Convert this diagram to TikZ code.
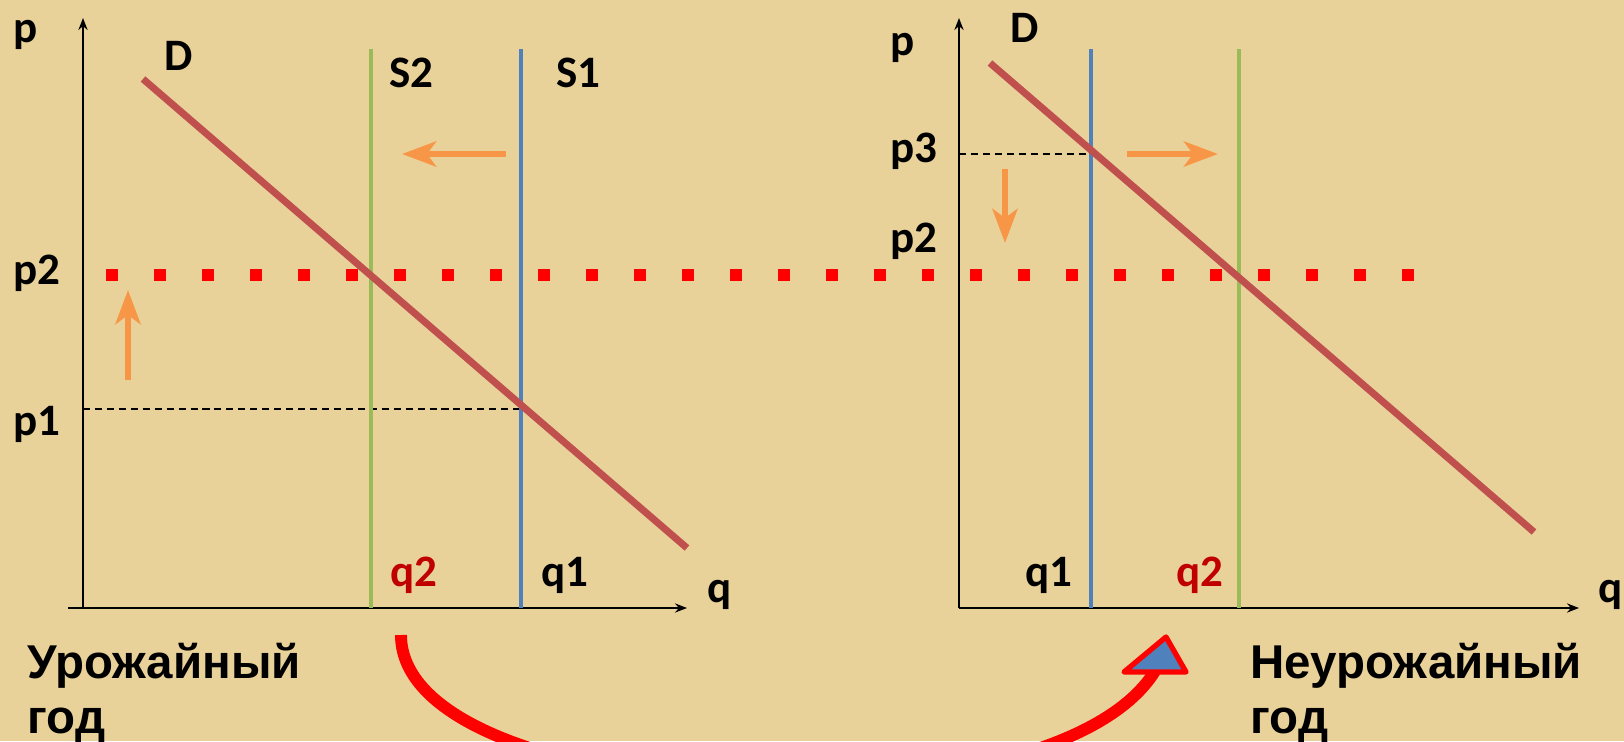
\documentclass[tikz,border=0pt]{standalone}
\usepackage{fontspec}
\setmainfont{Carlito}
\newfontfamily\yearfont{Liberation Sans}
\usepackage{xcolor}
\usetikzlibrary{arrows.meta}
\definecolor{papyrus}{RGB}{233,210,153}
\definecolor{demred}{RGB}{192,80,77}
\definecolor{supgreen}{RGB}{155,187,89}
\definecolor{supblue}{RGB}{79,129,189}
\definecolor{shiftor}{RGB}{247,150,70}
\definecolor{qdark}{RGB}{192,0,0}

\begin{document}
\begin{tikzpicture}[
  font=\bfseries\fontsize{12.8}{15}\selectfont,
  lbl/.style={anchor=base west, inner sep=0pt},
  axis/.style={line width=0.6pt, -{Stealth[length=3.4pt, width=2.6pt]}},
  demand/.style={line width=2pt, demred},
  supA/.style={line width=1.3pt, supgreen},
  supB/.style={line width=1.3pt, supblue},
  guide/.style={line width=0.35pt, dash pattern=on 2pt off 1.4pt},
  level/.style={line width=0.12cm, red, dash pattern=on 0.115cm off 0.365cm},
  move/.style={line width=1.8pt, shiftor, -{Stealth[length=0.34cm, width=0.25cm, inset=0.09cm]}},
  year/.style={font=\yearfont\bfseries\fontsize{13.5}{15.9}\selectfont, align=left, inner sep=0pt, anchor=north west},
  swing/.style={line width=3.4pt, red},
  head/.style={draw=red, fill=supblue, line width=1.5pt, line join=round}]
% background
\fill[papyrus] (0,0) rectangle (16.24,7.41);
\useasboundingbox (0,0) rectangle (16.24,7.41);
% Left chart (harvest year)
\coordinate (oL) at (0.83,1.33);
\coordinate (xstartL) at (0.68,1.33);
\coordinate (xendL) at (6.87,1.33);
\coordinate (yendL) at (0.83,7.23);
\draw[axis] (xstartL) -- (xendL);
\draw[axis] (oL) -- (yendL);
\coordinate (s2L) at (3.71,6.92);
\coordinate (s1L) at (5.21,6.92);
\coordinate (e1L) at (5.21,3.32);
\draw[guide] (oL |- e1L) -- (e1L);
\draw[supA] (s2L) -- (s2L |- oL);
\draw[supB] (s1L) -- (s1L |- oL);
\coordinate (dtopL) at (1.43,6.62);
\coordinate (dbotL) at (6.87,1.93);
\draw[demand] (dtopL) -- (dbotL);
\node[lbl] (pL) at (0.13,6.99) {p};
\node[lbl] (DL) at (1.64,6.70) {D};
\node[lbl] (S2L) at (3.89,6.54) {S2};
\node[lbl] (S1L) at (5.56,6.54) {S1};
\node[lbl] (p2L) at (0.13,4.57) {p2};
\node[lbl] (p1L) at (0.13,3.06) {p1};
\node[lbl, qdark] (q2L) at (3.90,1.55) {q2};
\node[lbl] (q1L) at (5.41,1.55) {q1};
\node[lbl] (qL) at (7.07,1.39) {q};
\coordinate (mvA0) at (5.06,5.87);
\coordinate (mvA1) at (4.02,5.87);
\draw[move] (mvA0) -- (mvA1);
\coordinate (mvB0) at (1.28,3.61);
\coordinate (mvB1) at (1.28,4.51);
\draw[move] (mvB0) -- (mvB1);
% Right chart (poor harvest year)
\coordinate (oR) at (9.59,1.33);
\coordinate (xendR) at (15.79,1.33);
\coordinate (yendR) at (9.59,7.23);
\draw[axis] (oR) -- (xendR);
\draw[axis] (oR) -- (yendR);
\coordinate (s1R) at (10.91,6.92);
\coordinate (s2R) at (12.39,6.92);
\coordinate (e3R) at (10.91,5.87);
\draw[guide] (oR |- e3R) -- (e3R);
\draw[supB] (s1R) -- (s1R |- oR);
\draw[supA] (s2R) -- (s2R |- oR);
\coordinate (dtopR) at (9.90,6.78);
\coordinate (dbotR) at (15.34,2.09);
\draw[demand] (dtopR) -- (dbotR);
\node[lbl] (pR) at (8.90,6.86) {p};
\node[lbl] (DR) at (10.10,6.99) {D};
\node[lbl] (p3R) at (8.90,5.79) {p3};
\node[lbl] (p2R) at (8.90,4.88) {p2};
\node[lbl] (q1R) at (10.25,1.55) {q1};
\node[lbl, qdark] (q2R) at (11.76,1.55) {q2};
\node[lbl] (qR) at (15.98,1.39) {q};
\coordinate (mvC0) at (11.27,5.87);
\coordinate (mvC1) at (12.18,5.87);
\draw[move] (mvC0) -- (mvC1);
\coordinate (mvD0) at (10.05,5.72);
\coordinate (mvD1) at (10.05,4.98);
\draw[move] (mvD0) -- (mvD1);
% common price level p2
\coordinate (lvA) at (1.06,4.66);
\coordinate (lvB) at (14.14,4.66);
\draw[level] (lvA) -- (lvB);
% captions and the swing between years
\node[year] (yearL) at (0.27,0.99) {Урожайный\\год};
\node[year] (yearR) at (12.50,0.99) {Неурожайный\\год};
\coordinate (swS) at (4.01,1.06);
\coordinate (swE) at (11.55,0.70);
\draw[swing] (swS) .. controls (4.01,-0.70) and (10.50,-1.00) .. (swE);
\filldraw[head] (11.66,1.04) -- (11.24,0.69) -- (11.86,0.69) -- cycle;
\end{tikzpicture}
\end{document}
